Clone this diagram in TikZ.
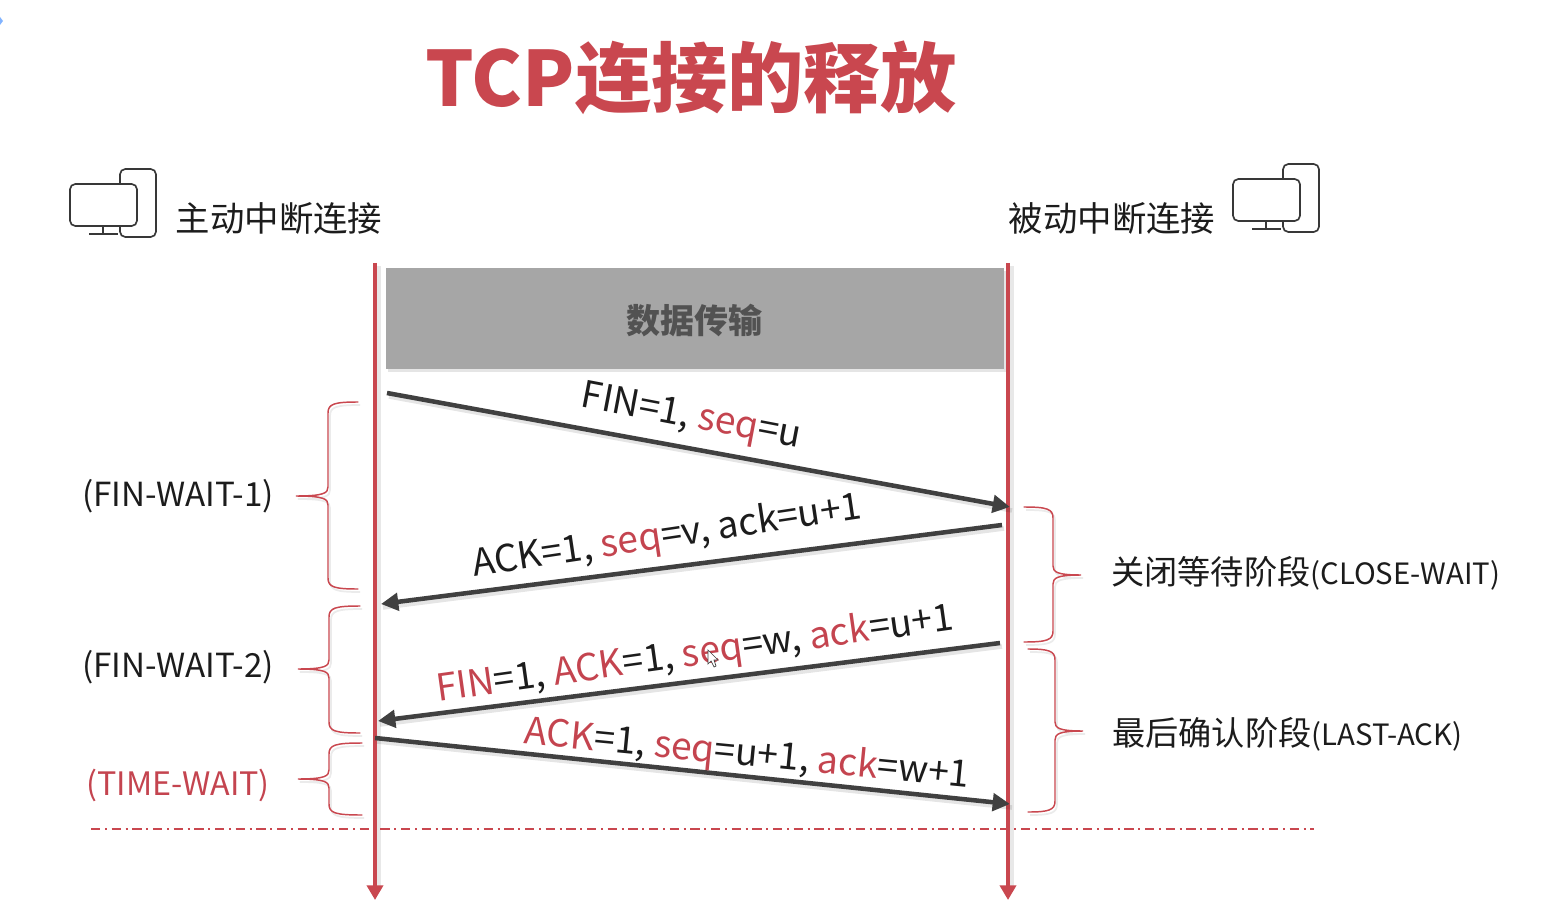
\documentclass[tikz,border=0pt]{standalone}
\usepackage{fontspec}
\setmainfont{Noto Sans CJK SC}
\usetikzlibrary{arrows.meta}
\definecolor{rd}{HTML}{C9474F}
\definecolor{rdt}{HTML}{C4444F}
\definecolor{dk}{HTML}{404040}
\definecolor{tx}{HTML}{1C1C1C}
\definecolor{bx}{HTML}{A6A6A6}
\newcommand{\R}[1]{\textcolor{rdt}{#1}}
\newcommand{\Lat}[1]{{\fontsize{22}{28}\selectfont #1}}
\tikzset{
  x=0.75pt,y=-0.75pt,
  lifeline/.style={draw=rd,line width=3.6pt,-{Triangle[length=11pt,width=12pt]}},
  lifeshadow/.style={draw=black,opacity=.09,line width=3.6pt},
  msg/.style={draw=dk,line width=3.4pt,-{Triangle[length=13pt,width=13pt]}},
  msgshadow/.style={draw=black,opacity=.10,line width=3.4pt},
  msgtext/.style={font=\fontsize{27.9}{30}\selectfont,text=tx,inner sep=0pt},
  state/.style={font=\fontsize{24.9}{28}\selectfont,text=tx,inner sep=0pt},
  who/.style={font=\fontsize{25.8}{30}\selectfont,text=tx,inner sep=0pt},
  ttl/.style={font=\fontsize{57.2}{60}\bfseries\selectfont,text=rd,inner sep=0pt},
  brc/.style={draw=rd,line width=1.1pt,line cap=round,fill=none},
  brcshadow/.style={draw=black,opacity=.08,line width=1.3pt,fill=none},
  ico/.style={draw=black!78,line width=1.25pt,rounded corners=4pt},
  band/.style={fill=bx,draw=none,inner sep=0pt,minimum width=463.5pt,minimum height=75.75pt,
    font=\fontsize{25.5}{30}\bfseries\selectfont,text=black!68},
}
\newcommand{\bracepath}[6]{(#1,#4) .. controls (#2+6,#4) and (#2,#4+2) .. (#2,#4+11) -- (#2,#5-9) .. controls (#2,#5-3) and (#2-4,#5) .. (#3,#5) .. controls (#2-4,#5) and (#2,#5+3) .. (#2,#5+9) -- (#2,#6-11) .. controls (#2,#6-2) and (#2+6,#6) .. (#1,#6)}
\newcommand{\rbracepath}[6]{(#1,#4) .. controls (#2-6,#4) and (#2,#4+2) .. (#2,#4+11) -- (#2,#5-9) .. controls (#2,#5-3) and (#2+4,#5) .. (#3,#5) .. controls (#2+4,#5) and (#2,#5+3) .. (#2,#5+9) -- (#2,#6-11) .. controls (#2,#6-2) and (#2-6,#6) .. (#1,#6)}
\newcommand{\computer}[2]{%
  \begin{scope}[shift={(#1,#2)}]
    \draw[ico] (-1,0) rectangle (35,68);
    \draw[ico,fill=white] (-51,15) rectangle (16,57);
    \draw[draw=black!78,line width=1.25pt] (-32,65) -- (-3,65) (-18,57) -- (-18,65);
  \end{scope}}
\begin{document}
\begin{tikzpicture}
\useasboundingbox (0,0) rectangle (1552,902);
\fill[white] (0,0) rectangle (1552,902);
\fill[blue!60!cyan!70,opacity=.7] (0,17) -- (3,21) -- (0,25) -- cycle;

\node[ttl] (title) at (691,78) {TCP连接的释放};

\computer{121}{169}
\computer{1284}{164}
\node[who] (lefttitle) at (279,218) {主动中断连接};
\node[who] (righttitle) at (1112,218) {被动中断连接};

% band
\fill[black,opacity=.10] (388,271) rectangle (1007,372);
\node[band,anchor=north west] (data) at (386,268) {};
\node[font=\fontsize{25.5}{30}\bfseries\selectfont,text=black!68,inner sep=0pt] (datatext) at (694,321) {数据传输};

% life lines
\coordinate (Atop) at (375,263);
\coordinate (Abot) at (375,900);
\coordinate (Btop) at (1008,263);
\coordinate (Bbot) at (1008,900);
\draw[lifeshadow] (379,266) -- (379,890);
\draw[lifeshadow] (1012,266) -- (1012,890);
\draw[lifeline] (Atop) -- (Abot);
\draw[lifeline] (Btop) -- (Bbot);

% dash-dot line
\coordinate (dl) at (91,829);
\coordinate (dr) at (1314,829);
\draw[draw=rd,line width=.9pt,dash pattern=on 7pt off 3.5pt on 1.5pt off 3.5pt] (dl) -- (dr);

% messages
\coordinate (m1a) at (387,393); \coordinate (m1b) at (1010,507);
\coordinate (m2a) at (1002,525); \coordinate (m2b) at (381,604);
\coordinate (m3a) at (1000,643); \coordinate (m3b) at (378,721);
\coordinate (m4a) at (375,738); \coordinate (m4b) at (1010,804);
\foreach \a/\b in {m1a/m1b,m2a/m2b,m3a/m3b,m4a/m4b}{
  \draw[msgshadow] ([shift={(2,3.5)}]\a) -- ([shift={(2,3.5)}]\b);
}
\draw[msg] (m1a) -- (m1b);
\draw[msg] (m2a) -- (m2b);
\draw[msg] (m3a) -- (m3b);
\draw[msg] (m4a) -- (m4b);

\node[msgtext,rotate=-10.8] (t1) at (691,418) {FIN=1, \R{seq}=u};
\node[msgtext,rotate=8.5] (t2) at (667,537) {ACK=1, \R{seq}=v, ack=u+1};
\node[msgtext,rotate=8] (t3) at (695,655) {\R{FIN}=1, \R{ACK}=1, \R{seq}=w, \R{ack}=u+1};
\node[msgtext,rotate=-5.6] (t4) at (747,755) {\R{ACK}=1, \R{seq}=u+1, \R{ack}=w+1};

% cursor
\draw[black!75,fill=white,line width=.5pt] (708,650) -- (708,664) -- (711,661) -- (714,667) -- (716,666) -- (714,660) -- (718,660) -- cycle;

% braces
\draw[brcshadow,shift={(2,3)}] \bracepath{358}{328}{296}{402}{496}{589};
\draw[brcshadow,shift={(2,3)}] \bracepath{360}{329}{298}{606}{669}{733};
\draw[brcshadow,shift={(2,3)}] \bracepath{362}{329}{298}{743}{779}{815};
\draw[brc] \bracepath{358}{328}{296}{402}{496}{589};
\draw[brc] \bracepath{360}{329}{298}{606}{669}{733};
\draw[brc] \bracepath{362}{329}{298}{743}{779}{815};
\draw[brcshadow,shift={(2,3)}] \rbracepath{1024}{1053}{1081}{507}{575}{642};
\draw[brcshadow,shift={(2,3)}] \rbracepath{1028}{1055}{1083}{649}{731}{812};
\draw[brc] \rbracepath{1024}{1053}{1081}{507}{575}{642};
\draw[brc] \rbracepath{1028}{1055}{1083}{649}{731}{812};

% state labels
\node[state] (s1) at (178,496) {(FIN-WAIT-1)};
\node[state] (s2) at (178,667) {(FIN-WAIT-2)};
\node[state,text=rdt,font=\fontsize{24.2}{28}\selectfont] (s3) at (178,785) {(TIME-WAIT)};
\node[state,anchor=west] (s4) at (1111,573) {关闭等待阶段\Lat{(CLOSE-WAIT)}};
\node[state,anchor=west] (s5) at (1112,734) {最后确认阶段\Lat{(LAST-ACK)}};
\end{tikzpicture}
\end{document}
